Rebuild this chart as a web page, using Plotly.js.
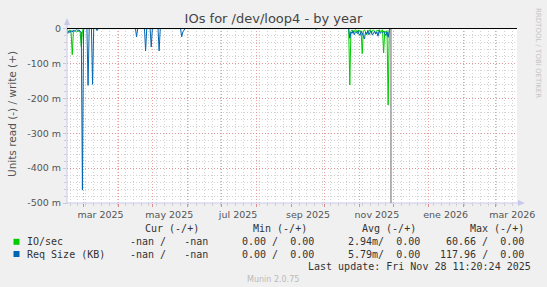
<!DOCTYPE html>
<html>
<head>
<meta charset="utf-8">
<script src="https://cdn.plot.ly/plotly-3.0.1.min.js"></script>
<style>
html,body{margin:0;padding:0;background:#F0F0F0;}
#chart{width:547px;height:287px;}
</style>
</head>
<body>
<div id="chart"></div>
<script>
// ---------- data (read side, values in units; write side is 0) ----------
const ioDates = [
  '2025-02-14','2025-02-15','2025-02-16','2025-02-17','2025-02-18','2025-02-19','2025-02-20',
  '2025-02-21','2025-02-22','2025-02-23','2025-02-24','2025-02-25','2025-02-26','2025-02-27',
  '2025-02-28','2025-03-01','2025-10-22','2025-10-23','2025-10-24','2025-10-25','2025-10-26',
  '2025-10-27','2025-10-28','2025-10-29','2025-10-30','2025-10-31','2025-11-01','2025-11-02',
  '2025-11-03','2025-11-04','2025-11-05','2025-11-06','2025-11-07','2025-11-08','2025-11-09',
  '2025-11-10','2025-11-11','2025-11-12','2025-11-13','2025-11-14','2025-11-15','2025-11-16',
  '2025-11-17','2025-11-18','2025-11-19','2025-11-20','2025-11-21','2025-11-22','2025-11-23',
  '2025-11-24','2025-11-25','2025-11-26','2025-11-27','2025-11-28'
];
const ioRead = [
  0,-0.006,-0.010,-0.004,-0.012,-0.075,-0.008,
  -0.006,-0.009,-0.010,-0.008,-0.007,-0.010,-0.052,
  -0.006,0,0,-0.162,-0.008,-0.004,-0.012,
  -0.006,-0.003,-0.007,-0.016,-0.004,-0.009,-0.006,
  -0.072,-0.007,-0.004,-0.010,-0.018,-0.005,-0.009,
  -0.003,-0.014,-0.006,-0.004,-0.008,-0.012,-0.005,
  -0.007,-0.003,-0.009,-0.005,-0.004,-0.070,-0.007,
  -0.012,-0.006,-0.219,-0.004,0
];
const reqDates = [
  '2025-02-14','2025-02-15','2025-02-16','2025-02-17','2025-02-18','2025-02-19','2025-02-20',
  '2025-02-21','2025-02-22','2025-02-23','2025-02-24','2025-02-25','2025-02-26','2025-02-27',
  '2025-02-28','2025-03-01','2025-03-02','2025-03-04','2025-03-05','2025-03-06','2025-03-08',
  '2025-03-09','2025-03-10','2025-03-12','2025-03-13','2025-03-14','2025-04-16','2025-04-17',
  '2025-04-18','2025-04-24','2025-04-25','2025-04-26','2025-04-29','2025-04-30','2025-05-01',
  '2025-05-06','2025-05-07','2025-05-08','2025-05-26','2025-05-27','2025-05-28','2025-05-29',
  '2025-05-30','2025-09-22','2025-09-23','2025-09-24','2025-10-22','2025-10-23','2025-10-24',
  '2025-10-25','2025-10-26','2025-10-27','2025-10-28','2025-10-29','2025-10-30','2025-10-31',
  '2025-11-01','2025-11-02','2025-11-03','2025-11-04','2025-11-05','2025-11-06','2025-11-07',
  '2025-11-08','2025-11-09','2025-11-10','2025-11-11','2025-11-12','2025-11-13','2025-11-14',
  '2025-11-15','2025-11-16','2025-11-17','2025-11-18','2025-11-19','2025-11-20','2025-11-21',
  '2025-11-22','2025-11-23','2025-11-24','2025-11-25','2025-11-26','2025-11-27','2025-11-28'
];
const reqRead = [
  -0.004,-0.014,-0.008,-0.012,-0.006,-0.010,-0.004,
  -0.008,-0.005,-0.003,-0.006,-0.004,-0.008,-0.010,
  -0.463,-0.004,0,0,-0.163,0,0,
  -0.160,0,0,-0.006,0,0,-0.024,
  0,0,-0.064,0,0,-0.053,0,
  0,-0.064,0,0,-0.024,-0.010,-0.006,
  0,0,-0.002,0,0,-0.028,-0.010,
  -0.014,-0.006,-0.018,-0.009,-0.012,-0.006,-0.015,
  -0.020,-0.008,-0.013,-0.022,-0.030,-0.010,-0.016,
  -0.006,-0.018,-0.011,-0.007,-0.019,-0.012,-0.008,
  -0.016,-0.010,-0.022,-0.006,-0.014,-0.009,-0.012,
  -0.008,-0.015,-0.020,-0.010,-0.025,-0.006,0
];
const writeDates = ['2025-02-14','2025-11-28'];
const writeVals = [0,0];
const lastUpdate = '2025-11-28 11:20';
const xRange = ['2025-02-14 08:00','2026-03-20 05:00'];
const yTickVals = [0,-0.1,-0.2,-0.3,-0.4,-0.5];
const yTickText = ['0','-100 m','-200 m','-300 m','-400 m','-500 m'];
const monthLabelVals = ['2025-03-16','2025-05-16','2025-07-16','2025-09-16','2025-11-16','2026-01-16','2026-03-16'];
const monthLabelText = ['mar 2025','may 2025','jul 2025','sep 2025','nov 2025','ene 2026','mar 2026'];
const legendNames = ['IO/sec','Req Size (KB)'];
const legendColors = ['#00CC00','#0066B3'];
const legendHeaders = ['Cur (-/+)','Min (-/+)','Avg (-/+)','Max (-/+)'];
const curVals = ['-nan /   -nan','-nan /   -nan'];
const minVals = ['0.00 /  0.00','0.00 /  0.00'];
const avgVals = ['2.94m/  0.00','5.79m/  0.00'];
const maxVals = ['60.66 /  0.00','117.96 /  0.00'];
const lastUpdateText = 'Last update: Fri Nov 28 11:20:24 2025';

// ---------- layout helpers ----------
const W=547,H=287,ML=67,MR=30,MT=28,MB=84;
const PW=W-ML-MR, PH=H-MT-MB;
const px = x => (x-ML)/PW;
const py = y => (H-MB-y)/PH;
const nb = s => s.replace(/ /g,'\u00A0');
const mono = {family:'DejaVu Sans Mono', size:10, color:'#333333'};

const traces = [
  {x:writeDates, y:writeVals, type:'scatter', mode:'lines', line:{color:'#00CC00',width:1}, hoverinfo:'skip'},
  {x:ioDates, y:ioRead, type:'scatter', mode:'lines', line:{color:'#00CC00',width:1}, hoverinfo:'skip'},
  {x:reqDates, y:reqRead, type:'scatter', mode:'lines', line:{color:'#0066B3',width:1}, hoverinfo:'skip'},
  {x:[], y:[], xaxis:'x2', type:'scatter', mode:'lines', hoverinfo:'skip'}
];

const annotations = [];
function ann(text, x, y, xanchor, font, extra){
  annotations.push(Object.assign({text:nb(text), xref:'paper', yref:'paper', x:px(x), y:py(y),
    xanchor:xanchor, yanchor:'middle', showarrow:false, font:font, borderpad:0}, extra||{}));
}
const hdrRight = [200,308,417,525];
legendHeaders.forEach((h,i)=>ann(h, hdrRight[i], 228.6, 'right', mono));
const rowY = [241.8,254];
legendNames.forEach((n,i)=>{
  ann(n, 26, rowY[i], 'left', mono);
  ann(curVals[i], 209, rowY[i], 'right', mono);
  ann(minVals[i], 315, rowY[i], 'right', mono);
  ann(avgVals[i], 420.6, rowY[i], 'right', mono);
  ann(maxVals[i], 525, rowY[i], 'right', mono);
});
ann(lastUpdateText, 532, 266, 'right', mono);
ann('Munin 2.0.75', 272.5, 279.4, 'center', {family:'DejaVu Sans', size:8, color:'#BBBBBB'});
ann('Units read (-) / write (+)', 12, 114, 'center', {family:'DejaVu Sans', size:10.5, color:'#555555'}, {textangle:-90});
ann('RRDTOOL / TOBI OETIKER', 538, 53, 'center', {family:'DejaVu Sans', size:7, color:'#C4C4C4'}, {textangle:90});

const shapes = [];
legendColors.forEach((c,i)=>{
  shapes.push({type:'rect', xref:'paper', yref:'paper', x0:px(13.5), x1:px(19.5), y0:py(rowY[i]+3), y1:py(rowY[i]-3),
    fillcolor:c, line:{width:0}});
});
const axisCol = '#C8C8EC';
// axis lines with arrows
shapes.push({type:'line', xref:'paper', yref:'paper', x0:px(ML), x1:px(ML), y0:py(H-MB+1), y1:py(21), line:{color:axisCol,width:1}});
shapes.push({type:'path', xref:'paper', yref:'paper', path:
  `M ${px(ML-3)} ${py(25)} L ${px(ML)} ${py(18)} L ${px(ML+3)} ${py(25)} Z`, fillcolor:axisCol, line:{width:0}});
shapes.push({type:'line', xref:'paper', yref:'paper', x0:px(ML-1), x1:px(520), y0:py(H-MB), y1:py(H-MB), line:{color:axisCol,width:1}});
shapes.push({type:'path', xref:'paper', yref:'paper', path:
  `M ${px(518)} ${py(H-MB-3)} L ${px(525)} ${py(H-MB)} L ${px(518)} ${py(H-MB+3)} Z`, fillcolor:axisCol, line:{width:0}});
// last-update marker line
shapes.push({type:'line', xref:'x', yref:'paper', x0:lastUpdate, x1:lastUpdate, y0:0, y1:1, line:{color:'#9A9A9A',width:1.5}, layer:'above'});
// zero rule
shapes.push({type:'line', xref:'paper', yref:'y', x0:0, x1:1, y0:0, y1:0, line:{color:'#000000',width:1}, layer:'above'});

const majorGrid = 'rgba(228,130,130,0.75)';
const minorGrid = '#D2D2D2';
const layout = {
  width:W, height:H,
  margin:{l:ML, r:MR, t:MT, b:MB, pad:0},
  paper_bgcolor:'#F0F0F0', plot_bgcolor:'#FFFFFF',
  showlegend:false,
  title:{text:'IOs for /dev/loop4 - by year', font:{family:'DejaVu Sans', size:13, color:'#444444'},
    xref:'container', yref:'container', x:0.5, y:1-18/H, xanchor:'center', yanchor:'middle'},
  xaxis:{type:'date', range:xRange, tick0:'2025-01-01', dtick:'M1', showticklabels:false,
    showgrid:true, gridcolor:majorGrid, griddash:'1px,2px', gridwidth:1,
    ticks:'outside', ticklen:3, tickcolor:'#E08C8C', tickwidth:1,
    showline:false, zeroline:false, fixedrange:true,
    minor:{dtick:7*86400000, tick0:'2025-03-03', showgrid:true, gridcolor:minorGrid, griddash:'1px,2px',
      ticks:'outside', ticklen:2, tickcolor:'#CCCCCC'}},
  xaxis2:{type:'date', overlaying:'x', anchor:'y', side:'bottom', range:xRange,
    tickmode:'array', tickvals:monthLabelVals, ticktext:monthLabelText,
    showgrid:false, ticks:'', showline:false, zeroline:false, fixedrange:true,
    tickfont:{family:'DejaVu Sans', size:9.5, color:'#555555'}, ticklabelstandoff:4},
  yaxis:{range:[-0.5,0.0015], tickmode:'array', tickvals:yTickVals, ticktext:yTickText,
    showgrid:true, gridcolor:majorGrid, griddash:'1px,2px', gridwidth:1,
    ticks:'outside', ticklen:3, tickcolor:'#C8C8DC',
    tickfont:{family:'DejaVu Sans', size:9.5, color:'#555555'},
    showline:false, zeroline:false, fixedrange:true,
    minor:{dtick:0.02, tick0:0, showgrid:true, gridcolor:minorGrid, griddash:'1px,2px',
      ticks:'outside', ticklen:2, tickcolor:'#CCCCDC'}},
  annotations:annotations,
  shapes:shapes
};
Plotly.newPlot('chart', traces, layout, {staticPlot:true, displayModeBar:false});
</script>
</body>
</html>
